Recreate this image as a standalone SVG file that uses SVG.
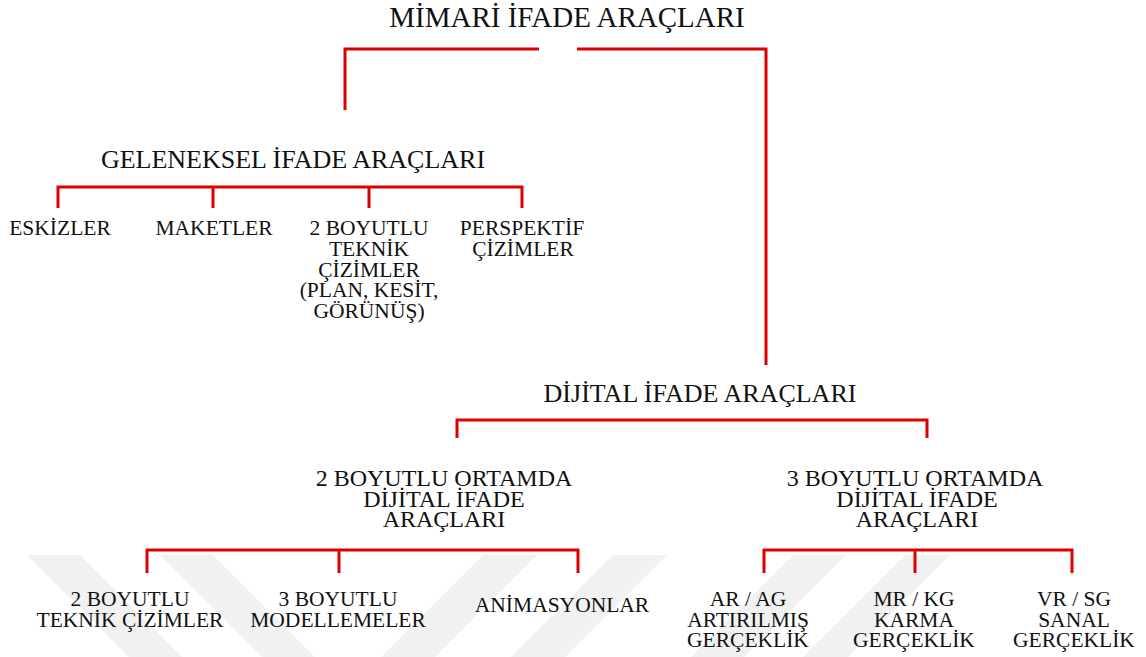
<svg xmlns="http://www.w3.org/2000/svg" width="1146" height="657" viewBox="0 0 1146 657">
<style>
text{font-family:"Liberation Serif","Times New Roman",serif;fill:#111;text-anchor:middle}
.t1{font-size:29px}
.t2{font-size:26px}
.t3{font-size:24px}
.t4{font-size:21.5px}
.c{fill:none;stroke:#dc0000;stroke-width:3;stroke-linecap:butt;stroke-linejoin:miter}
.wm{fill:#f1f1f1}
</style>
<rect width="1146" height="657" fill="#fff"/>
<g id="watermark">
<polygon class="wm" points="27,555 80,555 182,657 129,657"/>
<polygon class="wm" points="160,555 213,555 315,657 262,657"/>
<polygon class="wm" points="483,555 537,555 435,657 381,657"/>
<polygon class="wm" points="613,555 667,555 565,657 511,657"/>
<polygon class="wm" points="793,555 846,555 744,657 691,657"/>
<polygon class="wm" points="905,555 950,555 848,657 803,657"/>
</g>
<g id="connectors">
<path class="c" d="M345,110 V49 H539"/>
<path class="c" d="M577,49 H766 V365"/>
<path class="c" d="M58,208 V187 H522 V208 M213,187 V208 M369,187 V208"/>
<path class="c" d="M457,438 V420 H927 V438"/>
<path class="c" d="M147,573 V550 H578 V573 M339,550 V573"/>
<path class="c" d="M764,573 V550 H1072 V573 M915,550 V573"/>
</g>
<g id="n-mimari"><text class="t1" x="567" y="27">MİMARİ İFADE ARAÇLARI</text></g>
<g id="n-geleneksel"><text class="t2" x="293" y="168">GELENEKSEL İFADE ARAÇLARI</text></g>
<g id="n-eskizler"><text class="t4" x="60" y="235">ESKİZLER</text></g>
<g id="n-maketler"><text class="t4" x="214" y="235">MAKETLER</text></g>
<g id="n-2bteknik"><text class="t4" x="369" y="235">2 BOYUTLU</text><text class="t4" x="369" y="256">TEKNİK</text><text class="t4" x="369" y="277">ÇİZİMLER</text><text class="t4" x="369" y="297">(PLAN, KESİT,</text><text class="t4" x="369" y="318">GÖRÜNÜŞ)</text></g>
<g id="n-perspektif"><text class="t4" x="522" y="235">PERSPEKTİF</text><text class="t4" x="523" y="256">ÇİZİMLER</text></g>
<g id="n-dijital"><text class="t2" x="700" y="402">DİJİTAL İFADE ARAÇLARI</text></g>
<g id="n-2bortam"><text class="t3" x="444" y="486">2 BOYUTLU ORTAMDA</text><text class="t3" x="444" y="507">DİJİTAL İFADE</text><text class="t3" x="444" y="527">ARAÇLARI</text></g>
<g id="n-3bortam"><text class="t3" x="915" y="486">3 BOYUTLU ORTAMDA</text><text class="t3" x="917" y="507">DİJİTAL İFADE</text><text class="t3" x="917" y="527">ARAÇLARI</text></g>
<g id="n-2bcizim"><text class="t4" x="130" y="606">2 BOYUTLU</text><text class="t4" x="130" y="627">TEKNİK ÇİZİMLER</text></g>
<g id="n-3bmodel"><text class="t4" x="338" y="606">3 BOYUTLU</text><text class="t4" x="338" y="627">MODELLEMELER</text></g>
<g id="n-animasyon"><text class="t4" x="562" y="612">ANİMASYONLAR</text></g>
<g id="n-ar"><text class="t4" x="748" y="606">AR / AG</text><text class="t4" x="748" y="627">ARTIRILMIŞ</text><text class="t4" x="748" y="647">GERÇEKLİK</text></g>
<g id="n-mr"><text class="t4" x="914" y="606">MR / KG</text><text class="t4" x="914" y="627">KARMA</text><text class="t4" x="914" y="647">GERÇEKLİK</text></g>
<g id="n-vr"><text class="t4" x="1074" y="606">VR / SG</text><text class="t4" x="1074" y="627">SANAL</text><text class="t4" x="1074" y="647">GERÇEKLİK</text></g>
</svg>
